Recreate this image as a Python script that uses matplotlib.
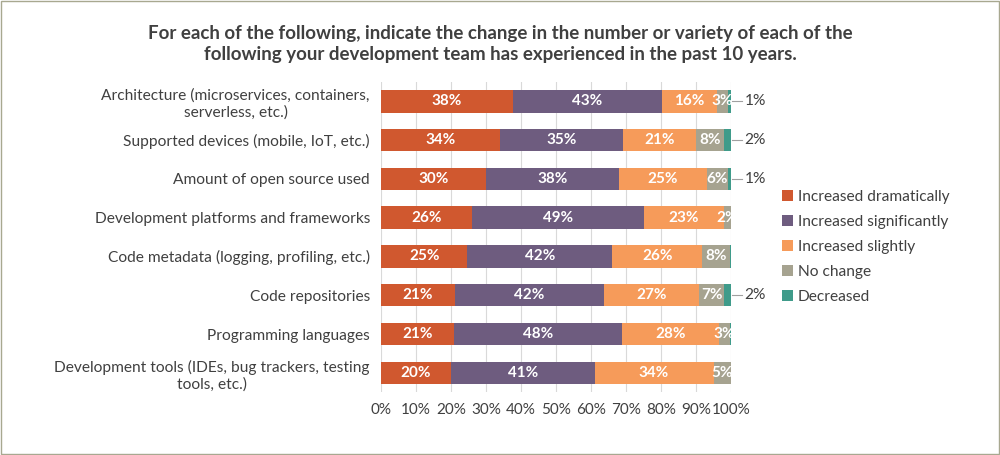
import matplotlib.pyplot as plt
import numpy as np

plt.rcParams['font.family'] = ['Lato', 'DejaVu Sans']

categories = [
    "Architecture (microservices, containers,\nserverless, etc.)",
    "Supported devices (mobile, IoT, etc.)",
    "Amount of open source used",
    "Development platforms and frameworks",
    "Code metadata (logging, profiling, etc.)",
    "Code repositories",
    "Programming languages",
    "Development tools (IDEs, bug trackers, testing\ntools, etc.)",
]
series_names = ["Increased dramatically", "Increased significantly",
                "Increased slightly", "No change", "Decreased"]
dramatic = [38, 34, 30, 26, 25, 21, 21, 20]
significant = [43, 35, 38, 49, 42, 42, 48, 41]
slight = [16, 21, 25, 23, 26, 27, 28, 34]
no_change = [3, 8, 6, 2, 8, 7, 3, 5]
decreased = [1, 2, 1, 0, 0.4, 2, 0.4, 0]
colors = ["#D0582F", "#6E5C7F", "#F69B5A", "#A6A390", "#3F9B8A"]

data = np.array([dramatic, significant, slight, no_change, decreased], dtype=float)
share = data / data.sum(axis=0) * 100

fig = plt.figure(figsize=(10, 4.55), dpi=100)
ax = fig.add_axes([0.381, 0.138, 0.35, 0.682])
y = np.arange(len(categories))
left = np.zeros(len(categories))
for i, name in enumerate(series_names):
    ax.barh(y, share[i], left=left, height=0.58, color=colors[i], label=name, zorder=3)
    if i < 4:
        for j in range(len(categories)):
            if data[i, j] >= 1:
                ax.text(left[j] + share[i, j] / 2, y[j], "%d%%" % data[i, j],
                        ha='center', va='center', color='white',
                        fontsize=11, fontweight='bold', zorder=4)
    else:
        for j in range(len(categories)):
            if data[i, j] >= 1:
                ax.plot([100.3, 103], [y[j], y[j]], color='#A0A0A0', lw=0.8, clip_on=False)
                ax.text(103.8, y[j], "%d%%" % data[i, j], ha='left', va='center',
                        color='#404040', fontsize=11.2)
    left += share[i]

ax.set_xlim(0, 100)
ax.set_ylim(len(categories) - 0.5, -0.5)
ax.set_xticks(np.arange(0, 101, 10))
ax.set_xticklabels(["%d%%" % v for v in range(0, 101, 10)], color='#404040', fontsize=11)
ax.set_yticks(y)
ax.set_yticklabels(categories, color='#404040', fontsize=11.2, multialignment='center')
ax.tick_params(length=0, pad=8)
ax.grid(axis='x', color='#D9D9D9', lw=0.8, zorder=0)
for s in ax.spines.values():
    s.set_visible(False)

fig.legend(loc='center left', bbox_to_anchor=(0.768, 0.457), frameon=False,
           fontsize=11.2, handlelength=0.7, handleheight=0.7, handletextpad=0.3,
           labelspacing=0.7, labelcolor='#404040')

fig.text(0.5, 0.903, "For each of the following, indicate the change in the number or variety of each of the\n"
         "following your development team has experienced in the past 10 years.",
         ha='center', va='center', fontsize=13.5, fontweight='bold', color='#404040',
         linespacing=1.3)

border = plt.Rectangle((0.001, 0.002), 0.998, 0.996, transform=fig.transFigure,
                       fill=False, edgecolor='#A8A890', lw=1)
fig.patches.append(border)

fig.savefig("out.png", dpi=100)
